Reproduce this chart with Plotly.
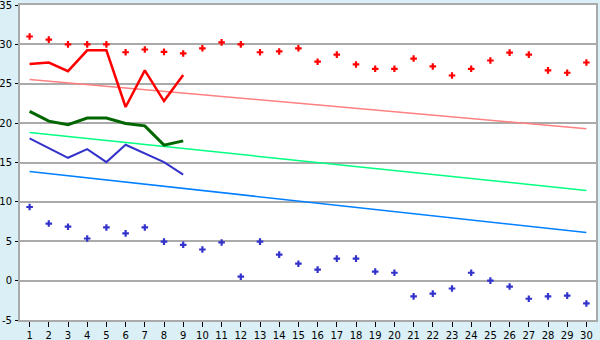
import plotly.graph_objects as go

days = list(range(1, 31))
high_pts = [31.0, 30.6, 30.0, 30.0, 30.0, 29.0, 29.35, 29.05, 28.85, 29.5,
            30.25, 30.0, 29.0, 29.1, 29.5, 27.8, 28.7, 27.45, 26.9, 26.9,
            28.2, 27.2, 26.05, 26.9, 27.95, 28.95, 28.7, 26.7, 26.4, 27.7]
low_pts = [9.35, 7.25, 6.85, 5.35, 6.75, 6.0, 6.75, 4.95, 4.55, 3.95,
           4.85, 0.5, 4.95, 3.3, 2.15, 1.4, 2.8, 2.8, 1.15, 1.0,
           -2.0, -1.65, -1.0, 1.0, 0.0, -0.75, -2.3, -2.0, -1.9, -2.9]
days_obs = list(range(1, 10))
red_line = [27.5, 27.7, 26.6, 29.25, 29.25, 22.05, 26.7, 22.8, 26.1]
green_line = [21.5, 20.25, 19.8, 20.65, 20.65, 19.95, 19.65, 17.2, 17.75]
blue_line = [18.05, 16.8, 15.6, 16.7, 15.05, 17.25, 16.2, 15.05, 13.45]
trend_days = [1, 30]
pink_trend = [25.55, 19.3]
lgreen_trend = [18.8, 11.45]
lblue_trend = [13.85, 6.1]
y_ticks = [-5, 0, 5, 10, 15, 20, 25, 30, 35]
y_labels = ["-5", "0", "5", "10", "15", "20", "25", "30", "35"]

fig = go.Figure()
fig.add_trace(go.Scatter(x=trend_days, y=pink_trend, mode="lines",
                         line=dict(color="#FF8080", width=1.5)))
fig.add_trace(go.Scatter(x=trend_days, y=lgreen_trend, mode="lines",
                         line=dict(color="#00FF80", width=1.5)))
fig.add_trace(go.Scatter(x=trend_days, y=lblue_trend, mode="lines",
                         line=dict(color="#0080FF", width=1.5)))
fig.add_trace(go.Scatter(x=days_obs, y=red_line, mode="lines",
                         line=dict(color="#FF0000", width=2.5)))
fig.add_trace(go.Scatter(x=days_obs, y=green_line, mode="lines",
                         line=dict(color="#006600", width=3)))
fig.add_trace(go.Scatter(x=days_obs, y=blue_line, mode="lines",
                         line=dict(color="#3333CC", width=2)))
fig.add_trace(go.Scatter(x=days, y=high_pts, mode="markers",
                         marker=dict(symbol="cross", size=5.5, color="#FF0000")))
fig.add_trace(go.Scatter(x=days, y=low_pts, mode="markers",
                         marker=dict(symbol="cross", size=5.5, color="#3333CC")))

fig.update_layout(
    width=600, height=340,
    margin=dict(l=20, r=4, t=5, b=20),
    paper_bgcolor="#DAEFF6",
    plot_bgcolor="#FFFFFF",
    showlegend=False,
    font=dict(family="DejaVu Sans", size=10, color="#000000"),
)
fig.update_xaxes(
    range=[0.5, 30.5], tickmode="array", tickvals=days,
    ticktext=[str(d) for d in days], automargin=False,
    showgrid=False, zeroline=False,
    showline=True, linecolor="#AAAAAA", linewidth=2, mirror=True,
    ticks="outside", ticklen=5, tickcolor="#000000", tickwidth=1,
    ticklabeloverflow="allow",
)
fig.update_yaxes(
    range=[-5, 35], tickmode="array", tickvals=y_ticks, ticktext=y_labels,
    automargin=False,
    showgrid=True, gridcolor="#AAAAAA", gridwidth=1.5, zeroline=False,
    showline=True, linecolor="#AAAAAA", linewidth=2, mirror=True,
    ticks="outside", ticklen=3, tickcolor="#000000", tickwidth=1,
    ticklabelstandoff=1, ticklabeloverflow="allow",
)
fig.write_html("out.html")
